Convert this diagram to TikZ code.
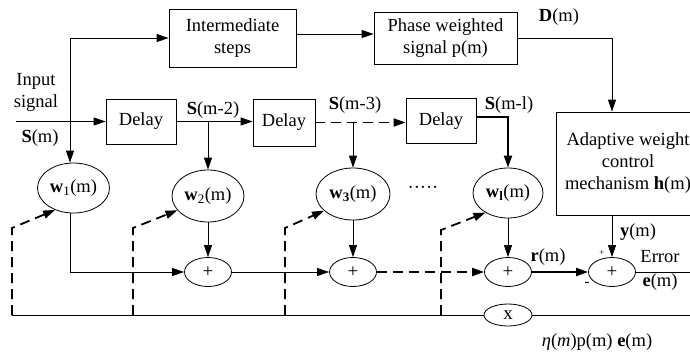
\documentclass[tikz,border=0pt]{standalone}
\usepackage{fontspec}
\setmainfont{Liberation Serif}
\usetikzlibrary{arrows.meta,shapes.geometric}
\begin{document}
\begin{tikzpicture}[x=1pt,y=-1pt,
  font=\fontsize{18.5}{22}\selectfont,
  tip/.style={-{Triangle[length=12pt,width=8pt]}},
  wire/.style={line width=0.8pt},
  heavy/.style={line width=1.8pt},
  dashline/.style={line width=1.8pt, dash pattern=on 10pt off 6pt},
  blockbox/.style={draw, line width=0.8pt, align=center, inner sep=0pt},
  weight/.style={draw, ellipse, line width=0.8pt, inner sep=0pt,
                 minimum width=72pt, minimum height=50pt},
  adder/.style={draw, ellipse, line width=0.8pt, inner sep=0pt,
                minimum width=47pt, minimum height=29pt,
                font=\fontsize{19}{19}\selectfont},
  lbl/.style={inner sep=0pt, align=center}]
\useasboundingbox (0,0) rectangle (690,354);

% processing blocks
\node[blockbox, minimum width=127pt, minimum height=58pt] (im) at (232.5,38) {Intermediate\\steps};
\node[blockbox, minimum width=143pt, minimum height=52pt] (ph) at (445.5,38) {Phase weighted\\signal p(m)};
\node[blockbox, minimum width=70pt, minimum height=45pt] (d1) at (141,121.5) {Delay};
\node[blockbox, minimum width=62pt, minimum height=47pt] (d2) at (284,122.5) {Delay};
\node[blockbox, minimum width=70pt, minimum height=45pt] (d3) at (441,121) {Delay};
\node[blockbox, minimum width=144pt, minimum height=103pt] (ad) at (628,163.5)
  {Adaptive weight\\control\\mechanism \textbf{h}(m)};

% tap weights
\node[weight] (w1) at (73.5,188) {\textbf{w}\textsubscript{1}(m)};
\node[weight, minimum height=52pt] (w2) at (208,196) {\textbf{w}\textsubscript{2}(m)};
\node[weight, minimum width=74pt, minimum height=52pt] (w3) at (353,194) {\textbf{w\textsubscript{3}}(m)};
\node[weight, minimum width=70pt] (wl) at (508,193) {\textbf{w\textsubscript{l}}(m)};
\node[lbl] (dots) at (423,190) {·····};

% adders and multiplier
\node[adder] (p1) at (208,272) {+};
\node[adder] (p2) at (353,272) {+};
\node[adder] (p3) at (508,272) {+};
\node[adder] (err) at (612,272) {+};
\node[adder, minimum width=48pt, minimum height=22pt] (xn) at (508,315) {x};

% free ends and junctions
\coordinate (src) at (16,121.5);
\coordinate (tap) at (70,38);
\coordinate (b2) at (208,121.5);
\coordinate (b3) at (353,121.5);
\coordinate (eo) at (695,272);
\coordinate (bl) at (12,315);
\coordinate (brr) at (695,315);
\coordinate (f1) at (12,315);
\coordinate (f2) at (133,315);
\coordinate (f3) at (285,315);
\coordinate (f4) at (441,315);

% upper path
\draw[wire,tip] (tap) -- (im.west);
\draw[wire,tip] (tap) -- (tap |- w1.north);
\draw[wire,tip] ([yshift=4pt]im.east) -- ([yshift=4pt]ph.west);
\draw[wire,tip] (ph.east) -| (ad.north -| err.north);

% delay line
\draw[wire,tip] (src) -- (d1.west);
\draw[wire,tip] (d1.east) -- (d1.east -| d2.west);
\draw[dashline,tip] (d2.east) -- (d2.east -| d3.west);
\draw[wire,tip] (b2) -- (w2.north);
\draw[wire,tip] (b3) -- (w3.north);
\draw[heavy,tip] ([yshift=4pt]d3.east) -| (wl.north);

% weights into adders
\draw[wire,tip] ([xshift=-3pt]w1.south) |- (p1.west);
\draw[wire,tip] (w2) -- (p1);
\draw[wire,tip] (w3) -- (p2);
\draw[wire,tip] (wl) -- (p3);
\draw[wire,tip] (p1) -- (p2);
\draw[dashline,tip] (p2) -- (p3);
\draw[heavy,tip] (p3) -- (err);
\draw[wire,tip] (ad.south -| err.north) -- (err.north);
\draw[wire] (err.east) -- (eo);

% update bus and feedback
\draw[wire] (bl) -- (xn.west);
\draw[wire] (xn.east) -- (brr);
\draw[dashline,tip] (f1) -- ++(0,-87) -- (w1.230);
\draw[dashline,tip] (f2) -- ++(0,-87) -- (w2.205);
\draw[dashline,tip] (f3) -- ++(0,-87) -- (w3.210);
\draw[dashline,tip] (f4) -- ++(0,-85) -- (wl.221);

% signal labels
\node[lbl] (lin) at (36,92) {Input\\signal};
\node[lbl] (ls) at (40,138) {\textbf{S}(m)};
\node[lbl] (ls2) at (213,110) {\textbf{S}(m-2)};
\node[lbl] (ls3) at (355,105) {\textbf{S}(m-3)};
\node[lbl] (lsl) at (509,105) {\textbf{S}(m-l)};
\node[lbl] (ld) at (559,17) {\textbf{D}(m)};
\node[lbl] (ly) at (638,232) {\textbf{y}(m)};
\node[lbl] (lr) at (548,257) {\textbf{r}(m)};
\node[lbl] (lerr) at (660,257) {Error};
\node[lbl] (le) at (660,282) {\textbf{e}(m)};
\node[lbl, font=\fontsize{9}{9}\selectfont] (lplus) at (602,253) {+};
\node[lbl, font=\fontsize{15}{15}\selectfont] (lminus) at (587,284) {-};
\node[lbl] (leta) at (597,342) {\textit{η}(\textit{m})p(m) \textbf{e}(m)};
\end{tikzpicture}
\end{document}
